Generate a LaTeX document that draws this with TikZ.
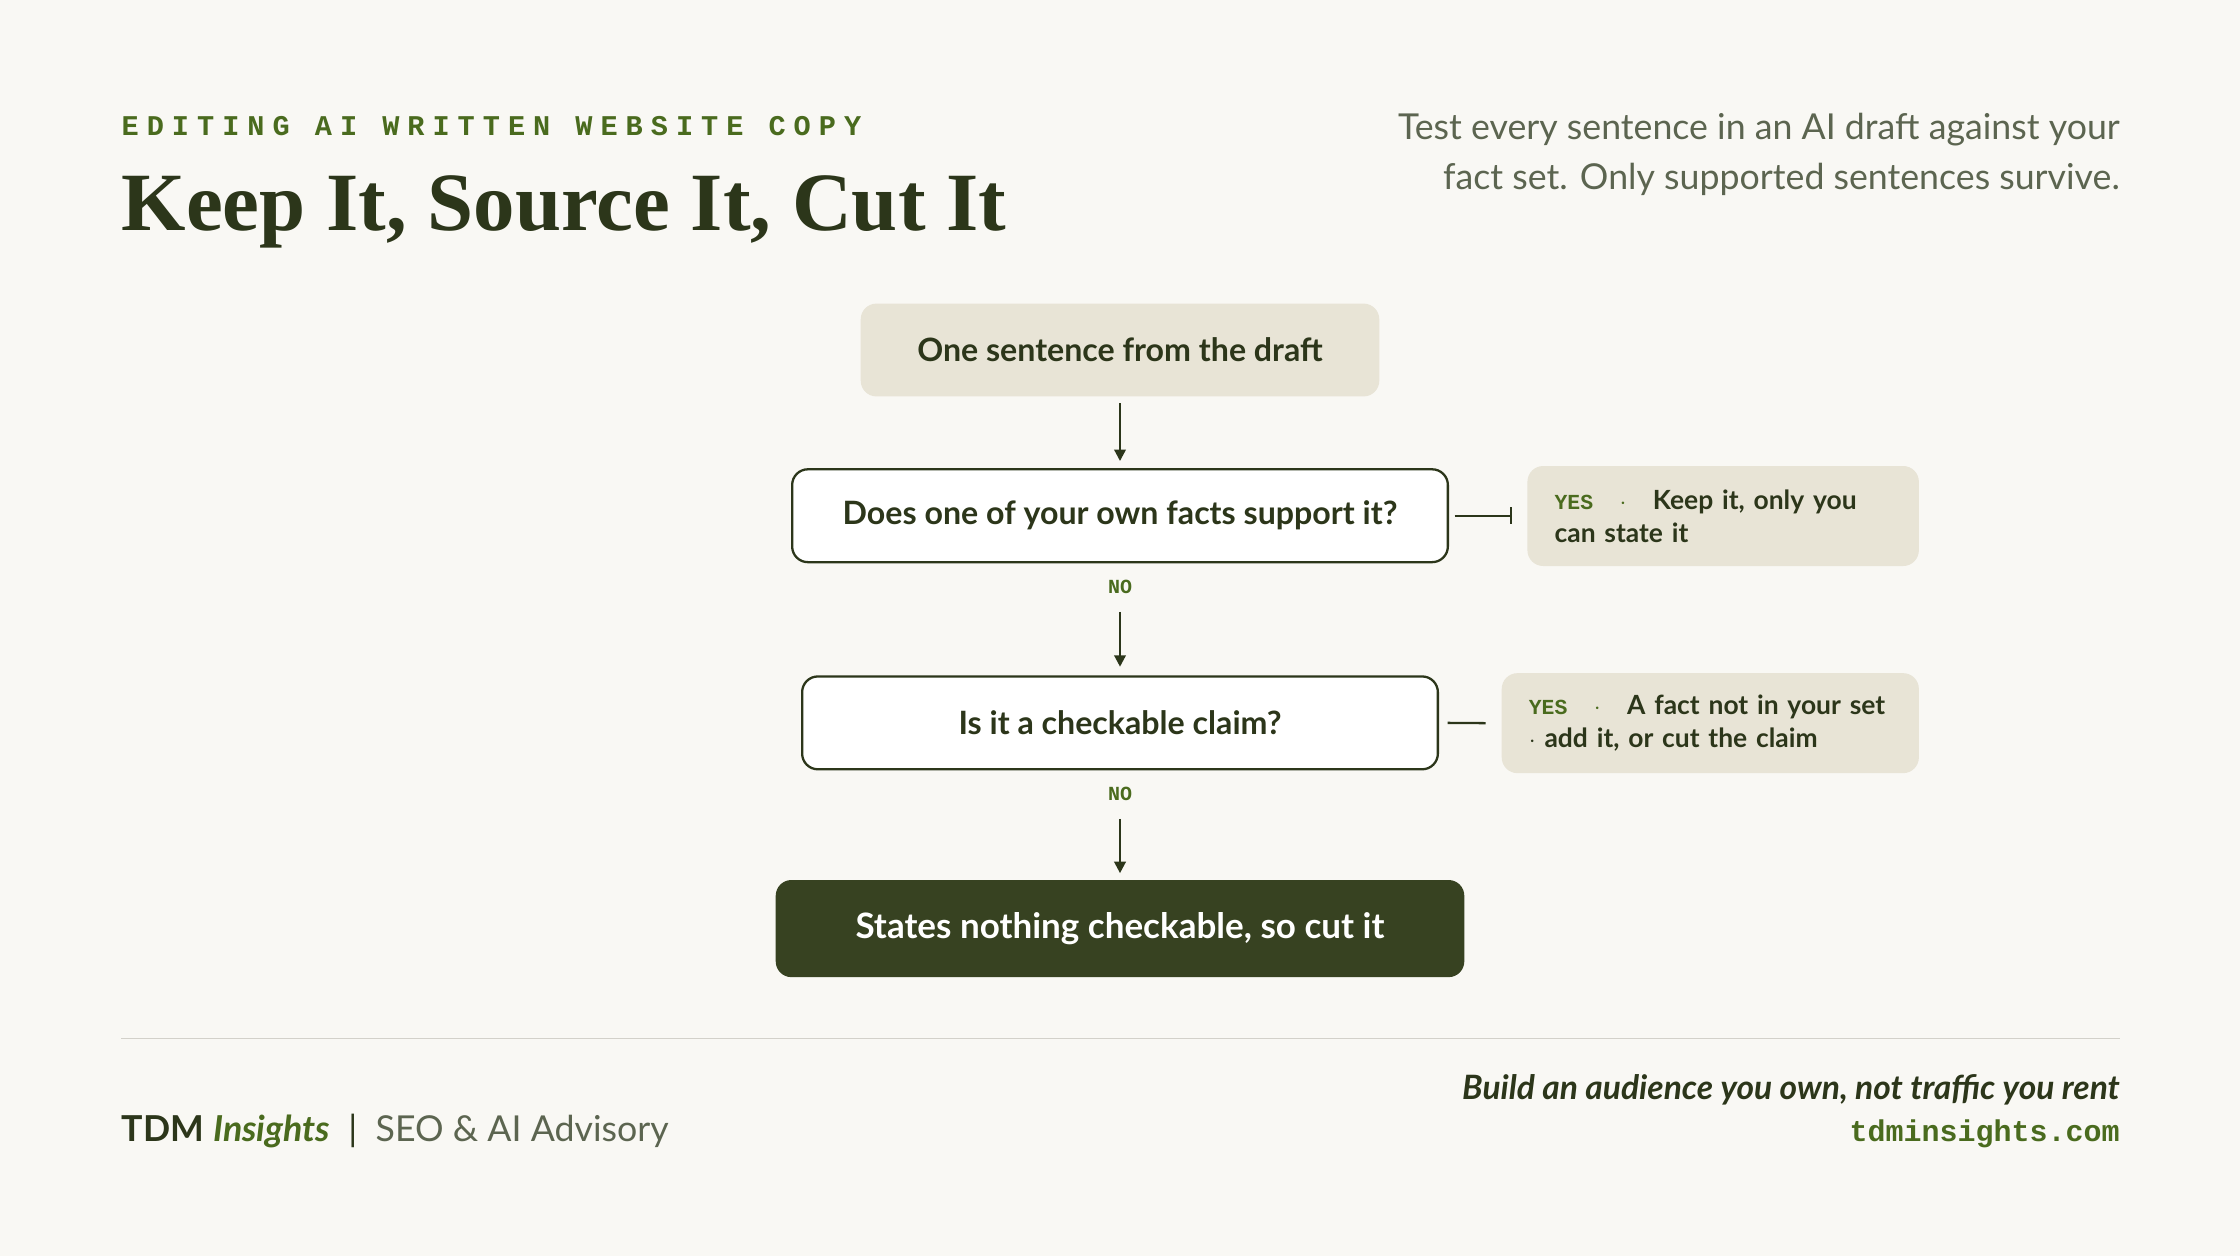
\documentclass[tikz,border=0pt]{standalone}
\usepackage{fontspec}
\setmainfont{Lato}
\newfontfamily\titlefont{Liberation Serif}
\newfontfamily\monofont{Liberation Mono}
\newfontfamily\spacedmono[LetterSpace=28]{Liberation Mono}
\usetikzlibrary{positioning,arrows.meta}
\definecolor{bgcol}{HTML}{F9F8F4}
\definecolor{ink}{HTML}{2C361A}
\definecolor{leaf}{HTML}{4A6B1E}
\definecolor{sand}{HTML}{E8E4D6}
\definecolor{grey}{HTML}{5C6550}
\definecolor{moss}{HTML}{374221}
\definecolor{rulecol}{HTML}{D3D1CA}
\tikzset{
    ask/.style={draw=ink, line width=1.6pt, rounded corners=11pt, fill=white,
        minimum height=65pt, font=\fontsize{22.5}{26}\selectfont\bfseries, text=ink},
    start/.style={ask, draw=none, fill=sand},
    stop/.style={ask, draw=none, fill=moss, text=white, minimum height=68pt, font=\fontsize{24.5}{28}\selectfont\bfseries},
    side/.style={rounded corners=11pt, fill=sand, text=ink, align=left, anchor=north west,
        inner xsep=19pt, minimum height=70pt, font=\fontsize{18.5}{23}\selectfont\bfseries},
    flow/.style={draw=ink, line width=1.6pt, -{Triangle[length=8pt,width=8pt]}},
    link/.style={draw=ink, line width=1.6pt},
    tag/.style={text=leaf, font=\monofont\fontsize{14}{16}\selectfont\bfseries},
}
\begin{document}
\begin{tikzpicture}[x=1pt,y=-1pt]
\fill[bgcol] (0,0) rectangle (1568,879);
\useasboundingbox (0,0) rectangle (1568,879);
% heading
\node[anchor=west, inner sep=0, text=leaf, font=\spacedmono\fontsize{20}{22}\selectfont\bfseries] (kicker) at (85,88) {EDITING AI WRITTEN WEBSITE COPY};
\node[anchor=base west, inner sep=0, text=ink, font=\titlefont\fontsize{58}{64}\selectfont\bfseries] (title) at (85,161) {Keep It, Source It, Cut It};
\node[anchor=north east, inner sep=0, align=right, text=grey, font=\fontsize{25}{35}\selectfont] (intro) at (1484,79) {Test every sentence in an AI draft against your\\fact set. Only supported sentences survive.};
% flow
\node[start, minimum width=363pt] (draft) at (784,245) {One sentence from the draft};
\node[ask, minimum width=459pt] (facts) at (784,361) {Does one of your own facts support it?};
\node[ask, minimum width=445pt] (claim) at (784,506) {Is it a checkable claim?};
\node[stop, minimum width=482pt] (cut) at (784,650) {States nothing checkable, so cut it};
\node[tag] (no1) at (784,411) {NO};
\node[tag] (no2) at (784,556) {NO};
\draw[flow] ([yshift=-4pt]draft.south) -- ([yshift=5pt]facts.north);
\draw[flow] ([yshift=-9pt]no1.south) -- ([yshift=6pt]claim.north);
\draw[flow] ([yshift=-9pt]no2.south) -- ([yshift=4pt]cut.north);
% side answers
\node[side, text width=236pt] (keep) at (1069,326) {\textcolor{leaf}{\monofont\fontsize{15}{18}\selectfont YES}\quad\textcolor{leaf}{$\cdot$}\quad Keep it, only you\\can state it};
\node[side, text width=254pt] (addit) at (1051,471) {\textcolor{leaf}{\monofont\fontsize{15}{18}\selectfont YES}\quad\textcolor{leaf}{$\cdot$}\quad A fact not in your set\\$\cdot$ add it, or cut the claim};
\draw[link, -{Bar[width=12pt]}] ([xshift=4pt]facts.east) -- ++(40,0) coordinate (keepend);
\draw[link] ([xshift=6pt]claim.east) -- ([xshift=-11pt]addit.west);
% footer
\draw[rulecol, line width=1pt] (85,727) -- (1484,727);
\node[anchor=west, inner sep=0, font=\fontsize{25}{28}\selectfont] (brand) at (85,792) {\textcolor{ink}{\bfseries TDM} \textcolor{leaf}{\bfseries\itshape Insights}\ \ \textcolor{ink}{|}\ \ \textcolor{grey}{SEO \& AI Advisory}};
\node[anchor=east, inner sep=0, text=ink, font=\fontsize{23.5}{26}\selectfont\bfseries\itshape] (motto) at (1484,763) {Build an audience you own, not traffic you rent};
\node[anchor=east, inner sep=0, text=leaf, font=\monofont\fontsize{21}{24}\selectfont\bfseries] (site) at (1484,794) {tdminsights.com};
\end{tikzpicture}
\end{document}
